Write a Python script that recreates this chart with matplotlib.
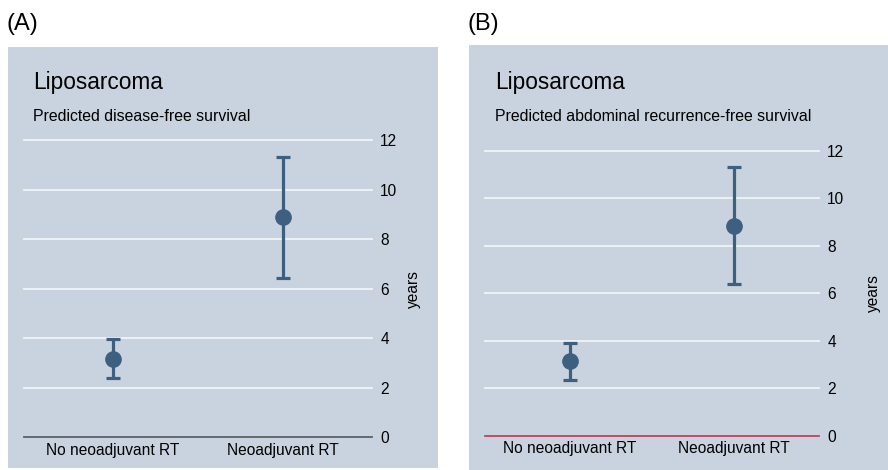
import matplotlib
matplotlib.use("Agg")
import matplotlib.pyplot as plt
from matplotlib.patches import Rectangle

plt.rcParams['font.family'] = ['Liberation Sans', 'DejaVu Sans']

categories = ["No neoadjuvant RT", "Neoadjuvant RT"]
yticks = [0, 2, 4, 6, 8, 10, 12]

# Panel A: predicted disease-free survival (years)
a_est = [3.16, 8.89]
a_low = [2.38, 6.45]
a_high = [3.96, 11.34]

# Panel B: predicted abdominal recurrence-free survival (years)
b_est = [3.15, 8.84]
b_low = [2.36, 6.39]
b_high = [3.92, 11.30]

W, H = 888, 470
fig = plt.figure(figsize=(W / 100, H / 100), dpi=100)
fig.patch.set_facecolor("white")

BG = "#c9d3df"
MARK = "#3d6080"
GRID = "#eef2f7"


def fx(x):
    return x / W


def fy(y):
    return 1 - y / H


def panel(box, ax_px, letter, letter_x, title_x, subtitle, est, low, high, zero_color):
    # background box
    x0, y0, x1, y1 = box
    fig.patches.append(Rectangle((fx(x0), fy(y1)), fx(x1 - x0), (y1 - y0) / H,
                                 transform=fig.transFigure, facecolor=BG,
                                 edgecolor="none", zorder=-5))
    fig.text(fx(letter_x), fy(30), letter, fontsize=17, va="baseline", ha="left")
    fig.text(fx(title_x), fy(89), "Liposarcoma", fontsize=16.3, va="baseline", ha="left")
    fig.text(fx(title_x), fy(121), subtitle, fontsize=11.4, va="baseline", ha="left")

    l, t, r, b = ax_px
    ax = fig.add_axes([fx(l), fy(b), fx(r - l), (b - t) / H])
    ax.set_zorder(2)
    ax.set_facecolor("none")
    ax.set_xlim(0.48, 2.52)
    ax.set_ylim(0, 12)
    for s in ax.spines.values():
        s.set_visible(False)
    for v in yticks:
        if v == 0:
            ax.axhline(v, color=zero_color, lw=1.3, zorder=2, clip_on=False)
        else:
            ax.axhline(v, color=GRID, lw=1.4, zorder=1, clip_on=False)
    xs = [1, 2]
    yerr = [[e - lo for e, lo in zip(est, low)], [hi - e for e, hi in zip(est, high)]]
    ax.errorbar(xs, est, yerr=yerr, fmt="o", color=MARK, ms=11, elinewidth=2.3,
                capsize=4.7, capthick=2.3, zorder=3, clip_on=False)
    ax.yaxis.tick_right()
    ax.set_yticks(yticks)
    ax.set_yticklabels([str(v) for v in yticks], fontsize=11.2)
    ax.tick_params(axis="y", length=0, pad=6)
    ax.set_xticks(xs)
    ax.set_xticklabels(categories, fontsize=11.2)
    ax.tick_params(axis="x", length=0, pad=4)
    return ax


axA = panel((8, 47, 438, 468), (24, 140.3, 372, 437.3), "(A)", 7, 33,
            "Predicted disease-free survival", a_est, a_low, a_high, "#5a6068")
axA.text((413 - 24) / 348, 0.5, "years", rotation=90, ha="center", va="center",
         fontsize=11.2, transform=axA.transAxes)

axB = panel((469, 45, 888, 470), (485, 150.7, 819, 435.7), "(B)", 467, 495,
            "Predicted abdominal recurrence-free survival", b_est, b_low, b_high, "#c8405a")
axB.text((873 - 485) / 334, 0.5, "years", rotation=90, ha="center", va="center",
         fontsize=11.2, transform=axB.transAxes)

fig.savefig("out.png", dpi=100)
